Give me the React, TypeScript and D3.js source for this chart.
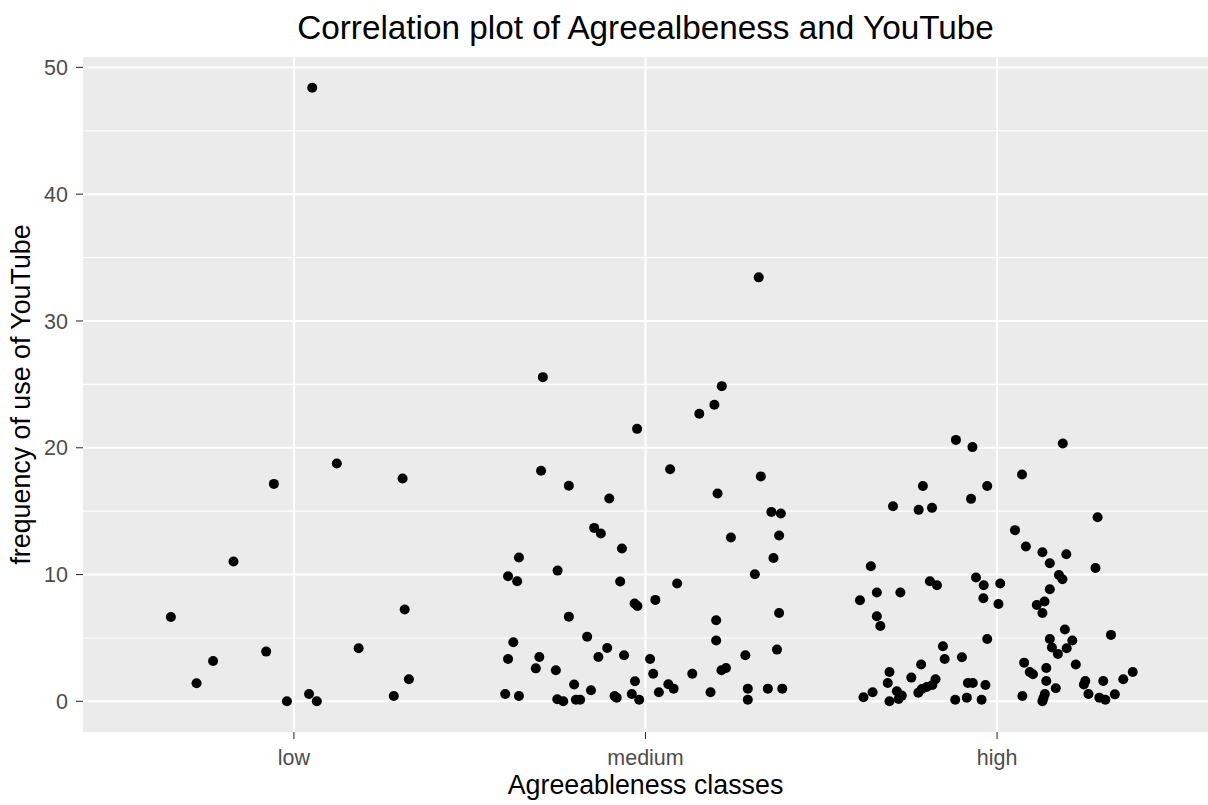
import React from "react";
import * as d3 from "d3";

// Agreeableness classes on the x axis
const classes = ["low", "medium", "high"];

// YouTube use frequency per class, with the horizontal jitter (in class-width units)
const lowValues = [6.65, 1.42, 3.18, 11.03, 3.92, 17.15, 0, 48.4, 0.58, 0, 18.76, 4.18, 0.42, 17.58, 7.24, 1.74];
const lowJitter = [-0.35, -0.277, -0.23, -0.172, -0.079, -0.057, -0.02, 0.052, 0.043, 0.065, 0.122, 0.184, 0.284, 0.309, 0.315, 0.327];

const mediumValues = [
  33.44, 25.57, 24.86, 23.39, 22.68, 21.49, 18.18, 18.31, 17.74, 17.0, 16.39, 16.0, 14.94, 14.81, 13.68, 13.23,
  12.92, 13.08, 12.05, 11.34, 11.31, 10.31, 10.02, 9.87, 9.47, 9.45, 9.29, 8.0, 7.71, 7.52, 6.97, 6.68,
  6.39, 4.79, 4.66, 5.1, 4.21, 4.08, 3.34, 3.5, 3.5, 3.63, 3.34, 3.63, 2.6, 2.45, 2.18, 2.18,
  2.45, 2.63, 1.58, 1.32, 1.34, 1.0, 0.87, 0.71, 0.71, 1.0, 1.0, 1.0, 0.58, 0.42, 0.58, 0.42,
  0.29, 0.16, 0, 0.13, 0.13, 0.13, 0.13,
];
const mediumJitter = [
  0.322, -0.292, 0.217, 0.196, 0.153, -0.024, -0.297, 0.07, 0.328, -0.218, 0.205, -0.103, 0.358, 0.385, -0.146, -0.127,
  0.243, 0.38, -0.067, -0.36, 0.364, -0.25, 0.311, -0.391, -0.365, -0.072, 0.09, 0.028, -0.031, -0.023, 0.38, -0.218,
  0.201, 0.201, -0.376, -0.166, -0.109, 0.374, -0.391, -0.302, -0.134, -0.061, 0.013, 0.284, -0.312, -0.255, 0.022, 0.133,
  0.216, 0.229, -0.03, -0.203, 0.065, 0.08, -0.155, 0.038, 0.185, 0.291, 0.348, 0.389, -0.399, -0.36, -0.039, -0.088,
  -0.082, -0.251, -0.234, -0.198, -0.186, -0.018, 0.291,
];

const highValues = [
  20.62, 20.05, 20.34, 17.89, 16.99, 16.99, 15.97, 15.39, 15.1, 15.26, 14.52, 13.5, 12.21, 11.76, 11.6, 10.89,
  10.66, 10.52, 9.47, 9.16, 9.76, 9.16, 9.29, 9.97, 9.63, 8.84, 8.58, 8.58, 7.97, 8.13, 7.68, 7.6,
  7.87, 6.97, 6.71, 5.94, 5.66, 5.24, 4.92, 4.92, 4.79, 4.24, 4.18, 3.74, 4.34, 3.34, 3.47, 2.9,
  3.05, 2.9, 2.31, 2.31, 2.13, 2.63, 2.31, 1.74, 1.87, 1.74, 1.45, 1.6, 1.6, 1.6, 1.32, 1.45,
  1.45, 1.29, 1.29, 1.13, 0.97, 0.68, 1.03, 0.79, 0.45, 0.71, 0.32, 0, 0.18, 0.13, 0.29, 0.13,
  0.42, 0.58, 0.26, 0, 0.58, 0.29, 0.13, 0.55,
];
const highJitter = [
  -0.117, -0.07, 0.187, 0.071, -0.211, -0.028, -0.074, -0.296, -0.223, -0.185, 0.286, 0.051, 0.082, 0.129, 0.197, 0.15,
  -0.359, 0.28, -0.191, -0.171, -0.06, -0.038, 0.009, 0.176, 0.186, 0.15, -0.342, -0.275, -0.39, -0.039, 0.004, 0.113,
  0.135, 0.129, -0.342, -0.332, 0.193, 0.324, -0.028, 0.15, 0.214, 0.156, 0.198, 0.173, -0.154, -0.149, -0.1, -0.216,
  0.077, 0.224, -0.306, 0.093, 0.102, 0.14, 0.386, 0.359, -0.244, -0.175, -0.311, 0.14, 0.251, 0.302, 0.247, -0.083,
  -0.069, -0.033, -0.184, -0.2, -0.214, -0.224, 0.167, -0.285, -0.271, -0.354, -0.38, -0.306, -0.28, -0.119, -0.086, -0.044,
  0.072, 0.136, 0.132, 0.129, 0.26, 0.291, 0.308, 0.335,
];

const yMajorTicks = [0, 10, 20, 30, 40, 50];
const yMinorTicks = [5, 15, 25, 35, 45];

const W = 1208;
const H = 805;
const panel = { left: 83, right: 1208, top: 57, bottom: 732 };
const FONT = "'Liberation Sans', Arial, sans-serif";

export default function App() {
  const x = d3.scalePoint<string>().domain(classes).range([panel.left, panel.right]).padding(0.6);
  const step = x.step();

  // continuous y scale with 5% expansion on both ends
  const allValues = [...lowValues, ...mediumValues, ...highValues];
  const maxV = d3.max(allValues) as number;
  const pad = maxV * 0.05;
  const y = d3.scaleLinear().domain([-pad, maxV + pad]).range([panel.bottom, panel.top]);

  const groups = [
    { cls: "low", values: lowValues, jitter: lowJitter },
    { cls: "medium", values: mediumValues, jitter: mediumJitter },
    { cls: "high", values: highValues, jitter: highJitter },
  ];

  const points = groups.flatMap((g) =>
    g.values.map((v, i) => ({ cx: (x(g.cls) as number) + g.jitter[i] * step, cy: y(v) }))
  );

  const midY = (panel.top + panel.bottom) / 2;
  const midX = (panel.left + panel.right) / 2;

  return (
    <svg
      width={W}
      height={H}
      style={{ position: "absolute", left: 0, top: 0, background: "#fff" }}
      fontFamily={FONT}
    >
      <rect x={panel.left} y={panel.top} width={panel.right - panel.left} height={panel.bottom - panel.top} fill="#EBEBEB" />
      {yMinorTicks.map((t) => (
        <line key={"mn" + t} x1={panel.left} x2={panel.right} y1={y(t)} y2={y(t)} stroke="#fff" strokeWidth={1.1} />
      ))}
      {yMajorTicks.map((t) => (
        <line key={"mj" + t} x1={panel.left} x2={panel.right} y1={y(t)} y2={y(t)} stroke="#fff" strokeWidth={2} />
      ))}
      {classes.map((c) => (
        <line key={"vg" + c} x1={x(c)} x2={x(c)} y1={panel.top} y2={panel.bottom} stroke="#fff" strokeWidth={2} />
      ))}

      {points.map((p, i) => (
        <circle key={i} cx={p.cx} cy={p.cy} r={5} fill="#000" />
      ))}

      {/* y axis */}
      {yMajorTicks.map((t) => (
        <g key={"yt" + t}>
          <line x1={panel.left - 7} x2={panel.left} y1={y(t)} y2={y(t)} stroke="#333" strokeWidth={1.1} />
          <text x={68} y={y(t)} dy="0.36em" textAnchor="end" fontSize={21.5} fill="#4D4D4D">
            {t}
          </text>
        </g>
      ))}

      {/* x axis */}
      {classes.map((c) => (
        <g key={"xt" + c}>
          <line x1={x(c)} x2={x(c)} y1={panel.bottom} y2={panel.bottom + 7} stroke="#333" strokeWidth={1.1} />
          <text x={x(c)} y={765} textAnchor="middle" fontSize={21.5} fill="#4D4D4D">
            {c}
          </text>
        </g>
      ))}

      <text x={midX} y={794} textAnchor="middle" fontSize={26.8} fill="#000">
        Agreeableness classes
      </text>
      <text transform={`translate(30, ${midY}) rotate(-90)`} textAnchor="middle" fontSize={26.8} fill="#000">
        frequency of use of YouTube
      </text>
      <text x={midX} y={39} textAnchor="middle" fontSize={33.3} fill="#000">
        Correlation plot of Agreealbeness and YouTube
      </text>
    </svg>
  );
}
